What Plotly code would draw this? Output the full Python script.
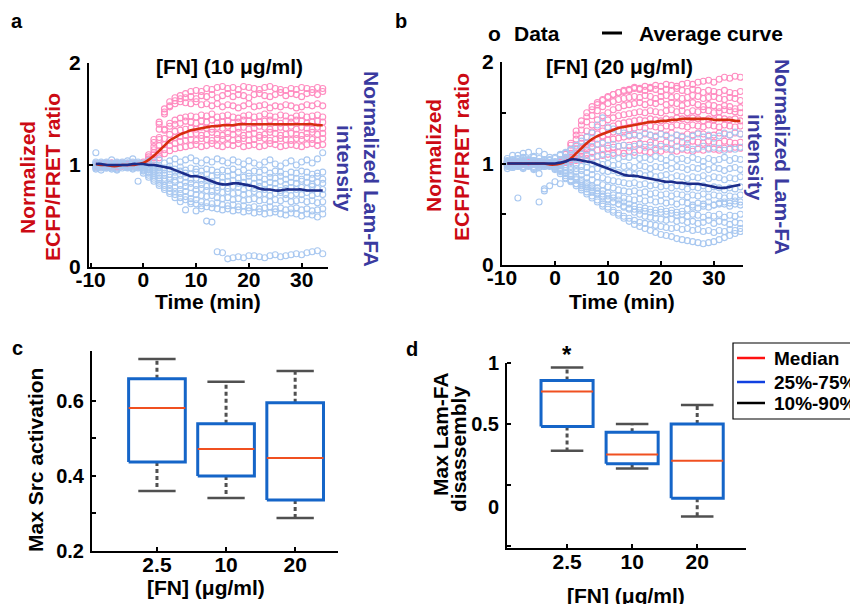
import plotly.graph_objects as go

FONT = "Liberation Sans, Arial, Helvetica, sans-serif"
W, H = 850, 604

# ---------------- DATA ----------------
TIME_A = [-9, -8, -7, -6, -5, -4, -3, -2, -1, 0, 1, 2, 3, 4, 5, 6, 7, 8, 9, 10, 11, 12, 13, 14, 15, 16, 17,
          18, 19, 20, 21, 22, 23, 24, 25, 26, 27, 28, 29, 30, 31, 32, 33, 34]
TIME_B = [-9, -8, -7, -6, -5, -4, -3, -2, -1, 0, 1, 2, 3, 4, 5, 6, 7, 8, 9, 10, 11, 12, 13, 14, 15, 16, 17,
          18, 19, 20, 21, 22, 23, 24, 25, 26, 27, 28, 29, 30, 31, 32, 33, 34, 35]
TIME_TICKS = [-10, 0, 10, 20, 30]
TIME_TICK_LABELS = ["-10", "0", "10", "20", "30"]

# Panel a, individual cells: normalized ECFP/FRET ratio (pink)
FRET_A = [
    [1.00, 0.99, 1.01, 1.00, 0.98, 1.00, 1.01, 0.99, 1.00,
     1.03, 1.10, 1.25, 1.42, 1.55, 1.62, 1.66, 1.68, 1.70, 1.72, 1.73, 1.72, 1.75, 1.74, 1.76, 1.77, 1.75, 1.76,
     1.74, 1.77, 1.76, 1.75, 1.74, 1.76, 1.77, 1.75, 1.74, 1.73, 1.75, 1.74, 1.76, 1.75, 1.74, 1.76, 1.75],
    [0.99, 1.00, 1.02, 0.98, 1.01, 0.99, 1.00, 1.02, 1.01,
     1.01, 1.06, 1.18, 1.35, 1.50, 1.58, 1.63, 1.65, 1.66, 1.67, 1.65, 1.68, 1.67, 1.69, 1.66, 1.68, 1.70, 1.67,
     1.69, 1.68, 1.66, 1.69, 1.70, 1.68, 1.67, 1.69, 1.71, 1.68, 1.70, 1.69, 1.67, 1.70, 1.71, 1.69, 1.72],
    [1.01, 0.98, 1.00, 0.99, 1.02, 1.00, 0.98, 1.00, 0.99,
     1.02, 1.08, 1.22, 1.40, 1.52, 1.57, 1.60, 1.62, 1.61, 1.60, 1.62, 1.59, 1.60, 1.58, 1.60, 1.57, 1.59, 1.58,
     1.56, 1.58, 1.60, 1.57, 1.58, 1.59, 1.56, 1.58, 1.57, 1.59, 1.58, 1.56, 1.57, 1.59, 1.58, 1.60, 1.58],
    [1.00, 1.01, 0.99, 1.00, 1.00, 0.99, 1.01, 1.00, 0.98,
     1.00, 1.04, 1.12, 1.25, 1.35, 1.41, 1.44, 1.46, 1.47, 1.48, 1.47, 1.49, 1.48, 1.50, 1.47, 1.48, 1.49, 1.47,
     1.46, 1.48, 1.49, 1.47, 1.48, 1.50, 1.48, 1.47, 1.49, 1.48, 1.46, 1.48, 1.49, 1.47, 1.48, 1.49, 1.47],
    [0.98, 1.00, 1.01, 1.02, 0.99, 1.00, 1.00, 0.99, 1.01,
     1.01, 1.05, 1.15, 1.27, 1.34, 1.38, 1.40, 1.41, 1.43, 1.42, 1.41, 1.43, 1.42, 1.44, 1.41, 1.42, 1.43, 1.41,
     1.42, 1.44, 1.43, 1.41, 1.42, 1.43, 1.44, 1.42, 1.41, 1.43, 1.42, 1.44, 1.43, 1.41, 1.42, 1.43, 1.42],
    [1.01, 1.00, 0.98, 1.00, 1.01, 1.02, 0.99, 1.00, 1.00,
     1.00, 1.03, 1.10, 1.19, 1.26, 1.30, 1.33, 1.34, 1.35, 1.36, 1.35, 1.37, 1.36, 1.35, 1.37, 1.36, 1.38, 1.35,
     1.36, 1.37, 1.35, 1.36, 1.38, 1.37, 1.35, 1.36, 1.37, 1.36, 1.38, 1.35, 1.37, 1.36, 1.35, 1.37, 1.36],
    [0.99, 1.00, 1.00, 1.01, 0.98, 1.00, 1.01, 1.00, 0.99,
     1.00, 1.02, 1.07, 1.14, 1.20, 1.24, 1.27, 1.28, 1.29, 1.30, 1.31, 1.29, 1.30, 1.32, 1.30, 1.29, 1.31, 1.30,
     1.32, 1.29, 1.30, 1.31, 1.29, 1.30, 1.32, 1.31, 1.29, 1.30, 1.31, 1.30, 1.29, 1.31, 1.32, 1.30, 1.31],
    [1.00, 0.99, 1.00, 1.02, 1.00, 0.99, 1.00, 1.01, 1.00,
     0.99, 1.01, 1.05, 1.10, 1.15, 1.19, 1.21, 1.23, 1.24, 1.25, 1.24, 1.26, 1.25, 1.24, 1.26, 1.25, 1.27, 1.24,
     1.25, 1.26, 1.24, 1.25, 1.27, 1.26, 1.24, 1.25, 1.26, 1.25, 1.24, 1.26, 1.25, 1.27, 1.25, 1.24, 1.26],
    [1.00, 1.01, 0.99, 1.00, 1.00, 1.01, 0.98, 1.00, 1.00,
     1.00, 1.01, 1.03, 1.07, 1.11, 1.14, 1.16, 1.17, 1.18, 1.19, 1.20, 1.18, 1.19, 1.21, 1.19, 1.18, 1.20, 1.19,
     1.21, 1.18, 1.19, 1.20, 1.18, 1.19, 1.21, 1.20, 1.18, 1.19, 1.20, 1.19, 1.18, 1.20, 1.21, 1.19, 1.20],
]

# Panel a, individual cells: normalized Lam-FA intensity (light blue)
LAMFA_A = [
    [1.12, 1.03, 1.00, 1.05, 1.02, 0.99, 1.04, 1.06, 1.01,
     1.02, 1.04, 1.03, 1.05, 1.02, 1.04, 1.06, 1.03, 1.05, 1.07, 1.04, 1.02, 1.05, 1.03, 1.06, 1.04, 1.02, 1.05,
     1.03, 1.01, 1.04, 1.02, 1.00, 1.03, 1.05, 1.01, 0.99, 1.02, 1.04, 1.00, 1.03, 1.05, 1.02, 1.06, 1.12],
    [0.97, 1.01, 1.03, 0.98, 1.00, 1.02, 0.97, 1.00, 1.03,
     1.01, 0.99, 1.00, 0.98, 0.97, 0.99, 0.96, 0.98, 0.95, 0.97, 0.96, 0.94, 0.96, 0.95, 0.93, 0.95, 0.94, 0.96,
     0.93, 0.95, 0.92, 0.94, 0.93, 0.95, 0.92, 0.94, 0.93, 0.91, 0.93, 0.92, 0.94, 0.93, 0.91, 0.92, 0.93],
    [1.02, 0.98, 1.01, 0.96, 1.03, 1.00, 1.02, 0.98, 1.00,
     1.00, 1.01, 0.98, 0.97, 0.95, 0.96, 0.93, 0.94, 0.92, 0.91, 0.93, 0.90, 0.91, 0.89, 0.90, 0.88, 0.89, 0.90,
     0.87, 0.88, 0.89, 0.87, 0.88, 0.86, 0.88, 0.87, 0.89, 0.86, 0.88, 0.87, 0.86, 0.88, 0.87, 0.89, 0.86],
    [0.99, 1.00, 0.97, 1.02, 0.99, 1.01, 0.98, 1.02, 0.99,
     0.99, 0.97, 0.96, 0.94, 0.92, 0.91, 0.89, 0.90, 0.88, 0.86, 0.87, 0.85, 0.86, 0.84, 0.85, 0.83, 0.84, 0.85,
     0.82, 0.83, 0.84, 0.82, 0.83, 0.81, 0.83, 0.82, 0.84, 0.81, 0.83, 0.82, 0.84, 0.83, 0.81, 0.83, 0.82],
    [1.01, 0.95, 0.99, 1.00, 0.97, 1.03, 1.00, 0.96, 1.01,
     0.98, 0.96, 0.94, 0.92, 0.90, 0.88, 0.85, 0.86, 0.83, 0.82, 0.80, 0.81, 0.79, 0.80, 0.78, 0.79, 0.77, 0.79,
     0.78, 0.76, 0.78, 0.77, 0.79, 0.76, 0.78, 0.77, 0.75, 0.77, 0.78, 0.76, 0.78, 0.77, 0.79, 0.77, 0.76],
    [0.98, 1.02, 1.00, 0.99, 1.01, 0.97, 1.00, 1.01, 0.98,
     0.97, 0.95, 0.92, 0.90, 0.87, 0.85, 0.83, 0.80, 0.79, 0.78, 0.76, 0.77, 0.75, 0.74, 0.75, 0.73, 0.74, 0.72,
     0.73, 0.71, 0.72, 0.74, 0.71, 0.72, 0.70, 0.72, 0.73, 0.71, 0.70, 0.72, 0.71, 0.73, 0.70, 0.72, 0.71],
    [1.00, 0.99, 1.02, 0.97, 1.00, 1.01, 0.99, 0.97, 1.02,
     0.96, 0.93, 0.90, 0.87, 0.84, 0.81, 0.78, 0.76, 0.74, 0.72, 0.71, 0.70, 0.69, 0.70, 0.68, 0.67, 0.68, 0.66,
     0.67, 0.65, 0.66, 0.67, 0.65, 0.66, 0.64, 0.66, 0.65, 0.67, 0.64, 0.65, 0.66, 0.64, 0.65, 0.63, 0.64],
    [0.96, 1.00, 0.98, 1.01, 1.02, 0.99, 0.98, 1.03, 0.97,
     0.95, 0.92, 0.88, 0.84, 0.80, 0.77, 0.74, 0.72, 0.69, 0.67, 0.66, 0.64, 0.63, 0.62, 0.63, 0.61, 0.60, 0.61,
     0.59, 0.60, 0.58, 0.59, 0.57, 0.58, 0.59, 0.57, 0.58, 0.56, 0.57, 0.58, 0.56, 0.57, 0.55, 0.56, 0.57],
    [1.00, 0.97, 1.01, 0.98, 0.96, 1.00, 1.02, 0.99, 0.84,
     0.94, 0.90, 0.86, 0.82, 0.78, 0.74, 0.71, 0.68, 0.66, 0.64, 0.62, 0.60, 0.59, 0.58, 0.57, 0.56, 0.57, 0.55,
     0.56, 0.54, 0.55, 0.53, 0.54, 0.52, 0.53, 0.54, 0.52, 0.51, 0.53, 0.52, 0.50, 0.52, 0.51, 0.49, 0.52],
    [1.03, 0.99, 0.97, 1.00, 0.95, 1.01, 0.99, 1.00, 0.98,
     0.92, 0.88, 0.84, 0.80, 0.76, 0.72, 0.68, 0.64, 0.56, 0.62, 0.55, 0.57, 0.45, 0.44, 0.15, 0.14, 0.08, 0.09,
     0.10, 0.09, 0.11, 0.11, 0.10, 0.09, 0.11, 0.12, 0.10, 0.11, 0.12, 0.13, 0.12, 0.14, 0.15, 0.16, 0.13],
]

# Panel b, individual cells
FRET_B = [
    [1.00, 1.01, 0.99, 1.00, 1.02, 1.00, 0.99, 1.01, 1.00,
     1.01, 1.04, 1.10, 1.18, 1.28, 1.38, 1.46, 1.53, 1.58, 1.62, 1.65, 1.68, 1.70, 1.72, 1.73, 1.75, 1.74, 1.76,
     1.75, 1.77, 1.76, 1.78, 1.77, 1.76, 1.78, 1.79, 1.78, 1.80, 1.81, 1.82, 1.80, 1.83, 1.85, 1.84, 1.86, 1.85],
    [0.99, 1.00, 1.01, 1.00, 0.98, 1.01, 1.00, 1.00, 0.99,
     1.00, 1.03, 1.09, 1.20, 1.32, 1.42, 1.50, 1.56, 1.60, 1.63, 1.66, 1.68, 1.70, 1.71, 1.72, 1.74, 1.73, 1.72,
     1.74, 1.73, 1.71, 1.73, 1.72, 1.74, 1.72, 1.71, 1.73, 1.72, 1.70, 1.72, 1.71, 1.70, 1.72, 1.70, 1.69, 1.71],
    [1.01, 0.99, 1.00, 1.02, 1.00, 0.99, 1.01, 1.00, 1.00,
     1.00, 1.02, 1.06, 1.14, 1.24, 1.33, 1.41, 1.47, 1.52, 1.56, 1.59, 1.61, 1.63, 1.64, 1.65, 1.66, 1.65, 1.67,
     1.66, 1.64, 1.66, 1.67, 1.65, 1.66, 1.64, 1.65, 1.67, 1.66, 1.64, 1.65, 1.66, 1.64, 1.63, 1.65, 1.64, 1.62],
    [1.00, 1.00, 0.98, 1.01, 1.00, 1.01, 0.99, 1.00, 1.01,
     1.00, 1.02, 1.05, 1.10, 1.17, 1.25, 1.32, 1.38, 1.43, 1.47, 1.50, 1.53, 1.55, 1.57, 1.58, 1.59, 1.60, 1.58,
     1.60, 1.59, 1.61, 1.58, 1.60, 1.59, 1.57, 1.59, 1.60, 1.58, 1.56, 1.58, 1.57, 1.55, 1.57, 1.56, 1.54, 1.55],
    [0.99, 1.00, 1.01, 0.99, 1.00, 1.00, 1.02, 0.99, 1.00,
     1.01, 1.02, 1.04, 1.08, 1.14, 1.20, 1.26, 1.31, 1.36, 1.40, 1.43, 1.45, 1.47, 1.48, 1.49, 1.50, 1.51, 1.50,
     1.52, 1.51, 1.50, 1.52, 1.53, 1.51, 1.52, 1.50, 1.52, 1.51, 1.53, 1.52, 1.50, 1.51, 1.53, 1.52, 1.51, 1.50],
    [1.00, 0.99, 1.00, 1.01, 0.99, 1.00, 1.00, 1.01, 0.99,
     1.00, 1.01, 1.03, 1.06, 1.10, 1.15, 1.20, 1.25, 1.29, 1.32, 1.35, 1.37, 1.39, 1.40, 1.41, 1.42, 1.43, 1.42,
     1.44, 1.43, 1.42, 1.44, 1.43, 1.45, 1.44, 1.43, 1.45, 1.44, 1.42, 1.44, 1.43, 1.45, 1.44, 1.43, 1.44, 1.42],
    [1.00, 1.01, 1.00, 0.99, 1.01, 1.00, 0.99, 1.00, 1.01,
     1.00, 1.01, 1.02, 1.05, 1.08, 1.12, 1.16, 1.20, 1.24, 1.27, 1.29, 1.31, 1.32, 1.33, 1.34, 1.35, 1.36, 1.35,
     1.37, 1.36, 1.35, 1.37, 1.36, 1.38, 1.37, 1.36, 1.38, 1.37, 1.36, 1.38, 1.37, 1.36, 1.38, 1.37, 1.36, 1.37],
    [0.99, 1.00, 1.00, 1.01, 1.00, 0.99, 1.01, 1.00, 1.00,
     0.99, 1.00, 1.02, 1.04, 1.07, 1.10, 1.13, 1.16, 1.19, 1.21, 1.23, 1.24, 1.25, 1.26, 1.27, 1.28, 1.27, 1.29,
     1.28, 1.27, 1.29, 1.28, 1.30, 1.28, 1.27, 1.29, 1.28, 1.30, 1.29, 1.27, 1.28, 1.30, 1.29, 1.28, 1.30, 1.29],
    [1.01, 1.00, 0.99, 1.00, 1.00, 1.01, 1.00, 0.99, 1.00,
     1.00, 1.00, 1.01, 1.03, 1.05, 1.07, 1.09, 1.11, 1.13, 1.14, 1.15, 1.16, 1.17, 1.18, 1.18, 1.19, 1.20, 1.19,
     1.21, 1.20, 1.19, 1.21, 1.20, 1.22, 1.21, 1.20, 1.22, 1.21, 1.20, 1.22, 1.21, 1.20, 1.22, 1.21, 1.20, 1.21],
    [1.00, 1.00, 1.01, 1.00, 0.99, 1.00, 1.01, 1.00, 0.99,
     1.00, 1.00, 1.01, 1.02, 1.03, 1.04, 1.05, 1.06, 1.07, 1.08, 1.09, 1.10, 1.11, 1.10, 1.12, 1.11, 1.13, 1.12,
     1.11, 1.13, 1.12, 1.14, 1.13, 1.12, 1.14, 1.13, 1.12, 1.14, 1.13, 1.15, 1.14, 1.13, 1.15, 1.14, 1.16, 1.15],
]

LAMFA_B = [
    [1.02, 1.08, 1.05, 1.10, 1.03, 1.07, 1.12, 1.04, 1.06,
     1.05, 1.08, 1.10, 1.14, 1.18, 1.22, 1.26, 1.30, 1.38, 1.45, 1.36, 1.34, 1.32, 1.30, 1.28, 1.29, 1.27, 1.30,
     1.28, 1.26, 1.29, 1.27, 1.25, 1.28, 1.26, 1.24, 1.27, 1.29, 1.26, 1.28, 1.25, 1.27, 1.30, 1.28, 1.31, 1.29],
    [1.05, 1.00, 1.08, 1.03, 1.11, 1.06, 1.02, 1.09, 1.04,
     1.06, 1.09, 1.11, 1.13, 1.15, 1.16, 1.18, 1.17, 1.19, 1.20, 1.18, 1.19, 1.17, 1.18, 1.16, 1.17, 1.19, 1.16,
     1.18, 1.15, 1.17, 1.16, 1.14, 1.17, 1.15, 1.16, 1.14, 1.15, 1.17, 1.14, 1.16, 1.15, 1.13, 1.15, 1.14, 1.16],
    [0.98, 1.03, 1.00, 1.06, 0.97, 1.02, 1.05, 0.99, 1.03,
     1.02, 1.04, 1.06, 1.08, 1.07, 1.09, 1.08, 1.10, 1.07, 1.09, 1.06, 1.08, 1.05, 1.07, 1.06, 1.08, 1.05, 1.06,
     1.04, 1.07, 1.05, 1.03, 1.06, 1.04, 1.05, 1.03, 1.06, 1.04, 1.02, 1.05, 1.03, 1.04, 1.06, 1.03, 1.05, 1.04],
    [1.01, 0.96, 1.04, 0.99, 1.02, 0.95, 1.00, 1.03, 0.98,
     1.00, 1.02, 1.03, 1.05, 1.04, 1.03, 1.02, 1.00, 1.01, 0.99, 1.00, 0.98, 0.99, 0.97, 0.98, 0.96, 0.98, 0.97,
     0.95, 0.97, 0.96, 0.98, 0.95, 0.97, 0.96, 0.94, 0.96, 0.95, 0.97, 0.94, 0.96, 0.95, 0.93, 0.95, 0.96, 0.94],
    [0.95, 0.99, 1.02, 0.97, 1.00, 1.03, 0.96, 1.01, 0.99,
     0.98, 1.00, 1.02, 1.01, 0.99, 0.97, 0.96, 0.94, 0.95, 0.93, 0.92, 0.93, 0.91, 0.90, 0.91, 0.89, 0.90, 0.88,
     0.89, 0.87, 0.88, 0.89, 0.86, 0.88, 0.87, 0.85, 0.87, 0.86, 0.88, 0.85, 0.87, 0.86, 0.84, 0.86, 0.85, 0.87],
    [1.00, 1.04, 0.97, 1.02, 0.99, 1.01, 0.97, 1.00, 1.03,
     1.01, 1.00, 0.99, 0.97, 0.95, 0.93, 0.91, 0.89, 0.87, 0.86, 0.84, 0.83, 0.82, 0.81, 0.80, 0.81, 0.79, 0.80,
     0.78, 0.79, 0.77, 0.78, 0.76, 0.78, 0.77, 0.75, 0.77, 0.76, 0.78, 0.75, 0.77, 0.76, 0.74, 0.76, 0.75, 0.77],
    [0.97, 1.01, 0.99, 1.05, 1.00, 0.96, 1.02, 0.98, 1.01,
     0.99, 0.98, 0.96, 0.94, 0.92, 0.89, 0.86, 0.84, 0.81, 0.79, 0.77, 0.76, 0.74, 0.73, 0.72, 0.73, 0.71, 0.72,
     0.70, 0.71, 0.69, 0.70, 0.68, 0.70, 0.69, 0.67, 0.69, 0.68, 0.70, 0.67, 0.69, 0.68, 0.66, 0.68, 0.67, 0.69],
    [1.02, 0.98, 1.00, 0.97, 1.03, 0.99, 1.01, 0.97, 1.00,
     0.97, 0.95, 0.93, 0.90, 0.87, 0.84, 0.81, 0.78, 0.76, 0.73, 0.71, 0.69, 0.68, 0.66, 0.65, 0.64, 0.65, 0.63,
     0.64, 0.62, 0.63, 0.61, 0.62, 0.60, 0.62, 0.61, 0.59, 0.61, 0.60, 0.62, 0.59, 0.61, 0.60, 0.58, 0.60, 0.59],
    [1.00, 0.97, 0.66, 0.95, 0.99, 0.94, 0.90, 0.73, 0.78,
     0.82, 0.80, 0.85, 0.83, 0.80, 0.78, 0.75, 0.72, 0.70, 0.67, 0.64, 0.62, 0.60, 0.58, 0.56, 0.55, 0.54, 0.53,
     0.52, 0.51, 0.52, 0.50, 0.51, 0.49, 0.50, 0.48, 0.50, 0.49, 0.47, 0.49, 0.48, 0.50, 0.47, 0.49, 0.48, 0.50],
    [1.01, 0.96, 1.00, 1.03, 0.98, 1.00, 0.62, 0.97, 1.01,
     0.96, 0.93, 0.90, 0.87, 0.84, 0.80, 0.77, 0.74, 0.71, 0.68, 0.65, 0.62, 0.60, 0.57, 0.55, 0.52, 0.50, 0.48,
     0.47, 0.46, 0.45, 0.44, 0.45, 0.43, 0.44, 0.42, 0.43, 0.41, 0.42, 0.44, 0.41, 0.43, 0.42, 0.40, 0.42, 0.41],
    [0.99, 1.02, 0.98, 1.00, 1.04, 0.97, 1.00, 1.02, 0.98,
     0.95, 0.92, 0.88, 0.84, 0.80, 0.76, 0.72, 0.68, 0.64, 0.60, 0.57, 0.54, 0.51, 0.48, 0.46, 0.44, 0.42, 0.41,
     0.40, 0.39, 0.38, 0.37, 0.36, 0.37, 0.35, 0.36, 0.34, 0.35, 0.33, 0.34, 0.32, 0.34, 0.33, 0.35, 0.34, 0.36],
    [1.00, 0.98, 1.01, 0.96, 1.00, 1.03, 0.99, 1.00, 0.97,
     0.94, 0.90, 0.86, 0.82, 0.78, 0.74, 0.70, 0.66, 0.62, 0.58, 0.55, 0.52, 0.49, 0.46, 0.43, 0.40, 0.38, 0.36,
     0.34, 0.32, 0.30, 0.29, 0.28, 0.26, 0.25, 0.24, 0.23, 0.22, 0.21, 0.22, 0.23, 0.25, 0.27, 0.29, 0.31, 0.33],
    [1.03, 1.00, 0.97, 1.01, 0.99, 1.02, 0.98, 0.75, 1.00,
     0.97, 0.94, 0.91, 0.88, 0.85, 0.82, 0.79, 0.76, 0.73, 0.70, 0.68, 0.66, 0.64, 0.62, 0.60, 0.58, 0.57, 0.56,
     0.55, 0.54, 0.55, 0.53, 0.54, 0.52, 0.53, 0.55, 0.57, 0.56, 0.58, 0.57, 0.59, 0.60, 0.62, 0.61, 0.63, 0.62],
]

# Average curves
AVG_FRET_A = [1.01, 1.00, 1.00, 0.99, 0.99, 1.00, 1.00, 1.00, 1.01,
              1.02, 1.05, 1.09, 1.14, 1.19, 1.24, 1.27, 1.30, 1.32, 1.34, 1.35, 1.36, 1.37, 1.38, 1.38, 1.39, 1.39,
              1.39, 1.40, 1.40, 1.40, 1.40, 1.40, 1.40, 1.40, 1.40, 1.40, 1.40, 1.40, 1.40, 1.40, 1.40, 1.40,
              1.39, 1.39]
AVG_LAMFA_A = [1.01, 1.01, 1.00, 1.00, 1.00, 1.00, 1.00, 1.01, 1.01,
               1.01, 1.00, 1.00, 0.99, 0.98, 0.97, 0.95, 0.93, 0.91, 0.89, 0.89, 0.88, 0.86, 0.84, 0.82, 0.81,
               0.81, 0.82, 0.82, 0.81, 0.80, 0.79, 0.77, 0.76, 0.76, 0.75, 0.75, 0.76, 0.76, 0.76, 0.76, 0.75,
               0.75, 0.75, 0.75]
AVG_FRET_B = [1.00, 1.00, 1.00, 1.00, 1.00, 1.00, 1.00, 1.00, 0.99,
              0.99, 1.00, 1.02, 1.05, 1.10, 1.15, 1.20, 1.24, 1.27, 1.29, 1.31, 1.33, 1.35, 1.36, 1.37, 1.38,
              1.39, 1.40, 1.41, 1.41, 1.42, 1.42, 1.43, 1.43, 1.44, 1.44, 1.44, 1.44, 1.44, 1.44, 1.43, 1.43,
              1.43, 1.43, 1.42, 1.42]
AVG_LAMFA_B = [1.00, 1.00, 1.00, 1.00, 1.00, 1.00, 1.00, 1.00, 1.00,
               1.00, 1.01, 1.02, 1.04, 1.04, 1.03, 1.02, 1.01, 0.99, 0.97, 0.95, 0.93, 0.91, 0.89, 0.88, 0.88,
               0.87, 0.86, 0.85, 0.84, 0.83, 0.82, 0.82, 0.81, 0.81, 0.80, 0.80, 0.80, 0.79, 0.78, 0.77, 0.76,
               0.76, 0.77, 0.78, 0.79]

# Box plots (c, d): [FN] categories
FN_LABELS = ["2.5", "10", "20"]
FN_POS = [1, 2, 3]
SRC_P10 = [0.360, 0.341, 0.288]
SRC_Q1 = [0.437, 0.400, 0.336]
SRC_MED = [0.581, 0.472, 0.448]
SRC_Q3 = [0.659, 0.539, 0.595]
SRC_P90 = [0.712, 0.651, 0.680]

LAM_P10 = [0.281, 0.136, -0.257]
LAM_Q1 = [0.480, 0.175, -0.107]
LAM_MED = [0.767, 0.251, 0.200]
LAM_Q3 = [0.857, 0.434, 0.500]
LAM_P90 = [0.964, 0.500, 0.656]

# ---------------- STYLE ----------------
PINK = "#ff8cc0"
LIGHTBLUE = "#a9c8f0"
RED_LINE = "#d62d0e"
NAVY_LINE = "#1c2d8a"
RED_TEXT = "#cc0a14"
INDIGO_TEXT = "#3a3aa0"
BOX_BLUE = "#1565c8"
MED_RED = "#f05020"
WHISK = "#505050"


def px(x):
    return x / W


def py(y):
    return 1 - y / H


def flatten(trajs, times):
    xs, ys = [], []
    for tr in trajs:
        for t, v in zip(times, tr):
            xs.append(t)
            ys.append(v)
    return xs, ys


fig = go.Figure()


def add_timecourse(fret, lamfa, avg_fret, avg_lamfa, times, xa, ya):
    xs, ys = flatten(fret, times)
    fig.add_trace(go.Scatter(x=xs, y=ys, mode="markers", xaxis=xa, yaxis=ya, showlegend=False,
                             marker=dict(symbol="circle-open", size=6, color=PINK, line=dict(width=1.1))))
    xs, ys = flatten(lamfa, times)
    fig.add_trace(go.Scatter(x=xs, y=ys, mode="markers", xaxis=xa, yaxis=ya, showlegend=False,
                             marker=dict(symbol="circle-open", size=6, color=LIGHTBLUE, line=dict(width=1.1))))
    fig.add_trace(go.Scatter(x=times[:len(avg_fret)], y=avg_fret, mode="lines", xaxis=xa, yaxis=ya,
                             showlegend=False, line=dict(color=RED_LINE, width=2.6, shape="spline")))
    fig.add_trace(go.Scatter(x=times[:len(avg_lamfa)], y=avg_lamfa, mode="lines", xaxis=xa, yaxis=ya,
                             showlegend=False, line=dict(color=NAVY_LINE, width=2.6, shape="spline")))


add_timecourse(FRET_A, LAMFA_A, AVG_FRET_A, AVG_LAMFA_A, TIME_A, "x", "y")
add_timecourse(FRET_B, LAMFA_B, AVG_FRET_B, AVG_LAMFA_B, TIME_B, "x2", "y2")


def add_boxes(p10, q1, med, q3, p90, xa, ya, half, cap):
    wx, wy, cx, cy, bx, by, mx, my = [], [], [], [], [], [], [], []
    for i, pos in enumerate(FN_POS):
        wx += [pos, pos, None, pos, pos, None]
        wy += [q3[i], p90[i], None, q1[i], p10[i], None]
        cx += [pos - cap, pos + cap, None, pos - cap, pos + cap, None]
        cy += [p90[i], p90[i], None, p10[i], p10[i], None]
        bx += [pos - half, pos + half, pos + half, pos - half, pos - half, None]
        by += [q1[i], q1[i], q3[i], q3[i], q1[i], None]
        mx += [pos - half, pos + half, None]
        my += [med[i], med[i], None]
    fig.add_trace(go.Scatter(x=wx, y=wy, mode="lines", xaxis=xa, yaxis=ya, showlegend=False,
                             line=dict(color=WHISK, width=3, dash="4px,3px")))
    fig.add_trace(go.Scatter(x=cx, y=cy, mode="lines", xaxis=xa, yaxis=ya, showlegend=False,
                             line=dict(color=WHISK, width=2.5)))
    fig.add_trace(go.Scatter(x=bx, y=by, mode="lines", xaxis=xa, yaxis=ya, showlegend=False,
                             line=dict(color=BOX_BLUE, width=3)))
    fig.add_trace(go.Scatter(x=mx, y=my, mode="lines", xaxis=xa, yaxis=ya, showlegend=False,
                             line=dict(color=MED_RED, width=2)))


add_boxes(SRC_P10, SRC_Q1, SRC_MED, SRC_Q3, SRC_P90, "x3", "y3", 0.41, 0.27)
add_boxes(LAM_P10, LAM_Q1, LAM_MED, LAM_Q3, LAM_P90, "x4", "y4", 0.40, 0.25)

TICKFONT = dict(family=FONT, size=21, color="black", weight="bold")
TICKFONT_S = dict(family=FONT, size=20, color="black", weight="bold")


def axis(domain, rng, anchor, **kw):
    d = dict(domain=domain, range=rng, anchor=anchor, showline=True, linecolor="black", linewidth=2,
             showgrid=False, zeroline=False, ticks="inside", ticklen=4, tickwidth=1.5, tickcolor="black",
             tickmode="array", fixedrange=True, automargin=False, ticklabelstandoff=2)
    d.update(kw)
    return d


MINOR_B = dict(tickmode="array", tickvals=[0.5, 1.5], ticks="inside", ticklen=4, tickwidth=1.5,
               tickcolor="black", showgrid=False)

fig.update_layout(
    template="none",
    width=W, height=H, margin=dict(l=0, r=0, t=0, b=0, autoexpand=False),
    paper_bgcolor="white", plot_bgcolor="white", showlegend=False,
    font=dict(family=FONT, size=21, color="black", weight="bold"),
    xaxis=axis([px(89), px(328)], [-10.3, 35], "y", tickvals=TIME_TICKS, ticktext=TIME_TICK_LABELS,
               tickfont=TICKFONT, ticklabelstandoff=-7),
    yaxis=axis([py(267), py(63)], [0, 2], "x", tickvals=[0, 1, 2], ticktext=["0", "1", "2"], tickfont=TICKFONT),
    xaxis2=axis([px(502), px(743)], [-10, 35.5], "y2", tickvals=TIME_TICKS, ticktext=TIME_TICK_LABELS,
                tickfont=TICKFONT, ticklabelstandoff=-7),
    yaxis2=axis([py(265), py(62)], [0, 2], "x2", tickvals=[0, 1, 2], ticktext=["0", "1", "2"],
                tickfont=TICKFONT, minor=MINOR_B),
    xaxis3=axis([px(92), px(338)], [0.06, 3.62], "y3", tickvals=FN_POS, ticktext=FN_LABELS,
                tickfont=TICKFONT, ticklabelstandoff=-6),
    yaxis3=axis([py(551), py(351)], [0.2, 0.733], "x3", tickvals=[0.2, 0.4, 0.6],
                ticktext=["0.2", "0.4", "0.6"], tickfont=TICKFONT_S,
                minor=dict(tickmode="array", tickvals=[0.3, 0.5], ticks="inside", ticklen=4, tickwidth=1.5,
                           tickcolor="black", showgrid=False)),
    xaxis4=axis([px(507), px(746)], [0.077, 3.75], "y4", tickvals=FN_POS, ticktext=FN_LABELS,
                tickfont=TICKFONT, ticklabelstandoff=-6),
    yaxis4=axis([py(548), py(363)], [-0.514, 1.0], "x4", tickvals=[1, 0.5, -0.18],
                ticktext=["1", "0.5", "0"], ticks="", tickfont=TICKFONT_S,
                minor=dict(tickmode="array", tickvals=[1, 0.5, 0, -0.5], ticks="inside", ticklen=4,
                           tickwidth=1.5, tickcolor="black", showgrid=False)),
)


def ann(text, x, y, size=21, color="black", angle=0, xanchor="center"):
    return dict(text=text, x=px(x), y=py(y), xref="paper", yref="paper", showarrow=False,
                textangle=angle, xanchor=xanchor, yanchor="middle",
                font=dict(family=FONT, size=size, color=color, weight="bold"))


annotations = [
    # panel letters
    ann("a", 17, 21, size=20), ann("b", 401, 21, size=20),
    ann("c", 17, 348, size=20), ann("d", 412, 349, size=20),
    # panel a
    ann("[FN] (10 \u03bcg/ml)", 230, 66),
    ann("Normalized", 27, 177, color=RED_TEXT, angle=-90),
    ann("ECFP/FRET ratio", 52, 177, color=RED_TEXT, angle=-90),
    ann("Normalized Lam-FA", 372, 169, color=INDIGO_TEXT, angle=90),
    ann("intensity", 345, 168, color=INDIGO_TEXT, angle=90),
    ann("Time (min)", 208, 301),
    # panel b
    ann("[FN] (20 \u03bcg/ml)", 619, 66),
    ann("Normalized", 433, 156, color=RED_TEXT, angle=-90),
    ann("ECFP/FRET ratio", 462, 157, color=RED_TEXT, angle=-90),
    ann("Normalized Lam-FA", 782, 157, color=INDIGO_TEXT, angle=90),
    ann("intensity", 755, 157, color=INDIGO_TEXT, angle=90),
    ann("Time (min)", 622, 301),
    ann("o", 494, 33),
    ann("Data", 512, 34, xanchor="left"),
    ann("Average curve", 637, 34, xanchor="left"),
    # panel c
    ann("Max Src activation", 35, 460, angle=-90),
    ann("[FN] (\u03bcg/ml)", 206, 587),
    # panel d
    ann("Max Lam-FA", 440, 434, angle=-90),
    ann("disassembly", 458, 449, angle=-90),
    ann("[FN] (\u03bcg/ml)", 626, 595),
    ann("*", 567, 355, size=24),
    ann("Median", 772, 358, size=19, xanchor="left"),
    ann("25%-75%", 772, 382, size=19, xanchor="left"),
    ann("10%-90%", 772, 403, size=19, xanchor="left"),
]

shapes = [
    dict(type="line", xref="paper", yref="paper", x0=px(602), x1=px(622), y0=py(33), y1=py(33),
         line=dict(color="black", width=3)),
    dict(type="rect", xref="paper", yref="paper", x0=px(733), x1=px(870), y0=py(419), y1=py(343),
         line=dict(color="black", width=1.2)),
    dict(type="line", xref="paper", yref="paper", x0=px(737), x1=px(765), y0=py(358), y1=py(358),
         line=dict(color="#ff1010", width=2.5)),
    dict(type="line", xref="paper", yref="paper", x0=px(737), x1=px(765), y0=py(382), y1=py(382),
         line=dict(color="#1040e0", width=2.5)),
    dict(type="line", xref="paper", yref="paper", x0=px(737), x1=px(765), y0=py(403), y1=py(403),
         line=dict(color="black", width=2.5)),
]

fig.update_layout(annotations=annotations, shapes=shapes)
# The page's default 8px body margin would shift the figure; remove it so the figure fills the window.
fig.write_html("out.html", config={"displayModeBar": False},
               post_script="document.body.style.margin='0px';document.body.style.overflow='hidden';")
